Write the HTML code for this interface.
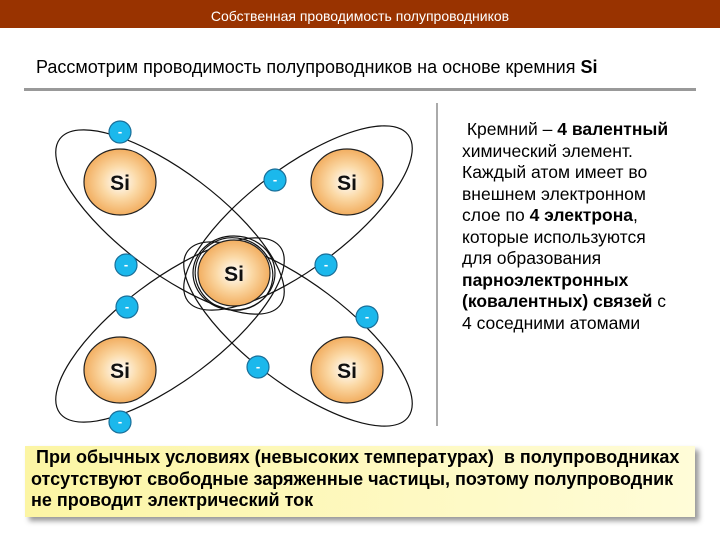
<!DOCTYPE html>
<html><head><meta charset="utf-8"><style>
body{margin:0;width:720px;height:540px;background:#fff;position:relative;overflow:hidden;font-family:"Liberation Sans",sans-serif;}
.hdr{position:absolute;left:0;top:0;width:720px;height:28px;background:#993300;color:#fff;font-size:14px;text-align:center;line-height:33px;}
.ttl{position:absolute;left:36px;top:57px;font-size:18px;color:#000;}
.hr{position:absolute;left:24px;top:88px;width:672px;height:3px;background:#999;}
.vr{position:absolute;left:436px;top:103px;width:2px;height:323px;background:#aaa;}
.rt{position:absolute;left:462px;top:119px;font-size:17.5px;line-height:21.5px;color:#000;white-space:pre;}
.box{position:absolute;left:25px;top:446px;width:670px;height:71px;background:linear-gradient(90deg,#fcf5a4,#fffcd8);box-shadow:4px 4px 5px #999;}
.bt{position:absolute;left:31px;top:447px;font-size:18px;font-weight:bold;line-height:21.5px;color:#000;white-space:pre;}
</style></head><body>
<div class="hdr">Собственная проводимость полупроводников</div>
<div class="ttl">Рассмотрим проводимость полупроводников на основе кремния <b>Si</b></div>
<div class="hr"></div>
<svg style="position:absolute;left:0;top:0" width="720" height="540">
<defs><radialGradient id="g" cx="50%" cy="50%" r="55%"><stop offset="0" stop-color="#fff"/><stop offset="0.45" stop-color="#fbd9a6"/><stop offset="1" stop-color="#f0a552"/></radialGradient></defs>
<g fill="none" stroke="#111" stroke-width="1.2">
<ellipse cx="170" cy="222" rx="138" ry="50" transform="rotate(37 170 222)"/>
<ellipse cx="298" cy="218" rx="138" ry="50" transform="rotate(-37 298 218)"/>
<ellipse cx="170" cy="330" rx="138" ry="50" transform="rotate(-37 170 330)"/>
<ellipse cx="298" cy="334" rx="138" ry="50" transform="rotate(37 298 334)"/>
<ellipse cx="234" cy="273" rx="41" ry="37"/>
<ellipse cx="234" cy="274" rx="39" ry="36" transform="rotate(15 234 274)"/>
</g>
<g stroke="#222" stroke-width="1.2" fill="url(#g)">
<ellipse cx="120" cy="182" rx="36" ry="33"/><ellipse cx="347" cy="182" rx="36" ry="33"/>
<ellipse cx="234" cy="273" rx="36" ry="33"/>
<ellipse cx="120" cy="370" rx="36" ry="33"/><ellipse cx="347" cy="370" rx="36" ry="33"/>
</g>
<g font-family="Liberation Sans" font-weight="bold" font-size="21" text-anchor="middle" fill="#111">
<text x="120" y="190">Si</text><text x="347" y="190">Si</text><text x="234" y="281">Si</text><text x="120" y="378">Si</text><text x="347" y="378">Si</text>
</g>
<g fill="#1bb8ec" stroke="#1a6f99" stroke-width="1.2">
<circle cx="120" cy="132" r="11"/><circle cx="275" cy="180" r="11"/><circle cx="126" cy="265" r="11"/><circle cx="326" cy="265" r="11"/><circle cx="127" cy="307" r="11"/><circle cx="367" cy="317" r="11"/><circle cx="258" cy="367" r="11"/><circle cx="120" cy="422" r="11"/>
</g>
<g fill="#fff" font-family="Liberation Sans" font-weight="bold" font-size="13" text-anchor="middle">
<text x="120" y="136">-</text><text x="275" y="184">-</text><text x="126" y="269">-</text><text x="326" y="269">-</text><text x="127" y="311">-</text><text x="367" y="321">-</text><text x="258" y="371">-</text><text x="120" y="426">-</text>
</g>
</svg>
<div class="vr"></div>
<div class="rt"> Кремний – <b>4 валентный</b>
химический элемент.
Каждый атом имеет во
внешнем электронном
слое по <b>4 электрона</b>,
которые используются
для образования
<b>парноэлектронных</b>
<b>(ковалентных) связей</b> с
4 соседними атомами</div>
<div class="box"></div>
<div class="bt"> При обычных условиях (невысоких температурах)  в полупроводниках
отсутствуют свободные заряженные частицы, поэтому полупроводник
не проводит электрический ток</div>
</body></html>
